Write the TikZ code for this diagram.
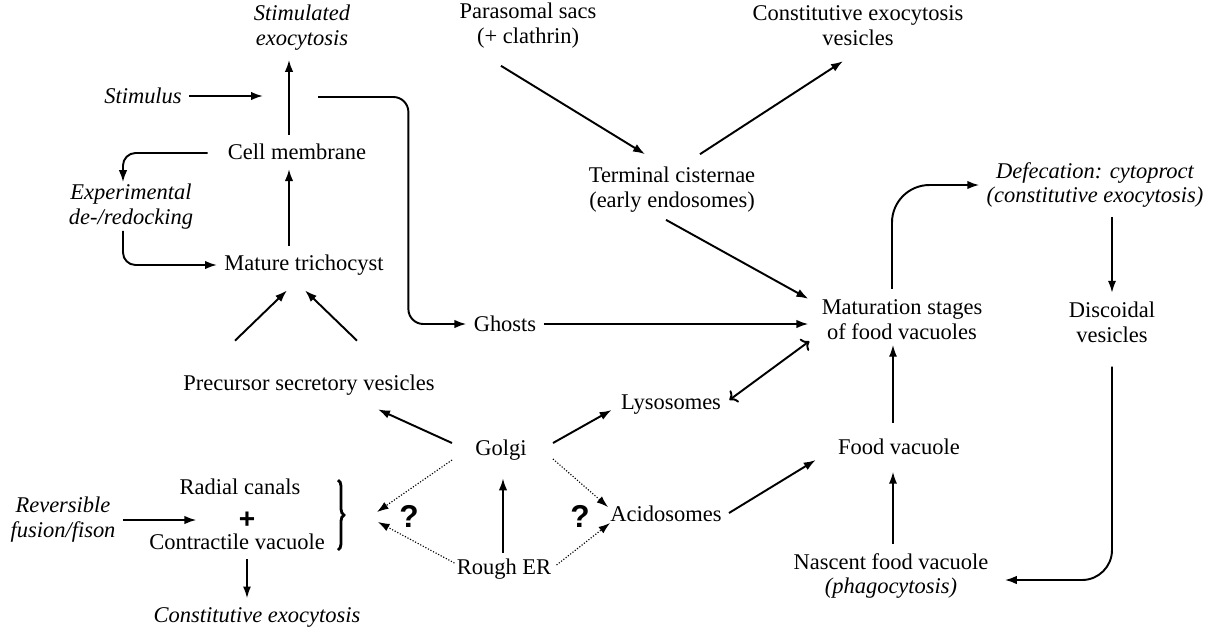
\documentclass[tikz,border=0pt]{standalone}
\usepackage{fontspec}
\setmainfont{Liberation Serif}
\setsansfont{Liberation Sans}
\usetikzlibrary{arrows.meta,calc,decorations.pathreplacing}

\newcommand{\figfont}{\fontsize{12.8}{14.2}\selectfont}

\begin{document}
\begin{tikzpicture}[
x=0.02cm, y=-0.02cm,
font=\figfont,
box/.style={inner xsep=4pt, inner ysep=5pt, align=center},
emph/.style={box, font=\figfont\itshape},
flow/.style={line width=1.1pt, -{Latex[length=2.4mm,width=1.7mm]}},
thinflow/.style={line width=0.65pt, -{Latex[length=2.3mm,width=1.6mm]}},
maybe/.style={line width=0.65pt, densely dotted, -{Latex[length=2.3mm,width=1.6mm]}},
query/.style={font=\fontsize{18}{18}\sffamily\bfseries}
]
    \useasboundingbox (0,0) rectangle (1218,627);

    % Trichocyst pathway
    \node[emph] (stimexo) at (302,28) {Stimulated\\exocytosis};
    \node[emph] (stimulus) at (143,96) {Stimulus};
    \coordinate (stimin) at (263,96);
    \coordinate (hub) at (289,96);
    \coordinate (trigout) at (318,97);
    \node[box] (cellmem) at (297,152) {Cell membrane};
    \node[emph] (exper) at (131,207) {Experimental\\de-/redocking};
    \node[box] (mature) at (304,265) {Mature trichocyst};
    \node[box] (precursor) at (309,385) {Precursor secretory vesicles};
    \node[box] (ghosts) at (505,324) {Ghosts};

    % Endocytic side
    \node[box] (parasomal) at (528,26) {Parasomal sacs\\(+ clathrin)};
    \node[box] (constexo) at (858,26) {Constitutive exocytosis\\vesicles};
    \node[box] (terminal) at (672,190) {Terminal cisternae\\(early endosomes)};
    \node[box] (matur) at (902,320) {Maturation stages\\of food vacuoles};
    \node[emph] (defec) at (1095,185) {Defecation: cytoproct\\(constitutive exocytosis)};
    \node[box] (discoid) at (1112,322) {Discoidal\\vesicles};
    \node[box] (foodvac) at (899,447) {Food vacuole};
    \node[box] (nascent) at (891,576) {Nascent food vacuole\\\textit{(phagocytosis)}};

    % Golgi and ER
    \node[box] (golgi) at (501,450) {Golgi};
    \node[box] (lyso) at (671,405) {Lysosomes};
    \node[box] (acido) at (666,514) {Acidosomes};
    \node[box] (rough) at (504,569) {Rough ER};
    \node[query] (q1) at (409,516) {?};
    \node[query] (q2) at (580,516) {?};

    % Contractile vacuole complex
    \node[emph] (revers) at (63,520) {Reversible\\fusion/fison};
    \node[box] (radial) at (240,487) {Radial canals};
    \node[box, font=\fontsize{16}{16}\sffamily\bfseries] (plus) at (247,520) {+};
    \node[box] (contract) at (237,542) {Contractile vacuole};
    \node[emph] (cvexo) at (257,617) {Constitutive exocytosis};
    \coordinate (cvin) at (377,517);
    \draw[line width=1.6pt, decorate, decoration={brace, amplitude=0.12cm}]
        (338,480) -- (338,550);

    % arrows, left part
    \draw[flow] (stimulus) -- (stimin);
    \draw[flow] (cellmem.north -| hub) -- (stimexo.south -| hub);
    \draw[flow] (mature.north -| hub) -- (cellmem.south -| hub);
    \draw[flow, rounded corners=0.3cm] (trigout) -| ($(ghosts.west)+(-58,0)$) -- (ghosts.west);
    \draw[flow, rounded corners=0.25cm] ($(cellmem.west)+(-13,1)$) -| ($(exper.north)+(-8,7)$);
    \draw[flow, rounded corners=0.25cm] ($(exper.south)+(-8,-8)$) |- (mature.west);
    \draw[flow] ([shift={(-74,-25)}]precursor.north) -- ([shift={(-17,6)}]mature.south);
    \draw[flow] ([shift={(48,-25)}]precursor.north) -- ([shift={(1,6)}]mature.south);
    \draw[flow] ([shift={(-16,-7)}]golgi.west) -- ([shift={(69,5)}]precursor.south);

    % arrows, middle
    \draw[flow] ([shift={(19,-7)}]golgi.east) -- ([shift={(-2,5)}]lyso.west);
    \draw[flow] ([shift={(-1,3)}]rough.north) -- ([shift={(2,9)}]golgi.south);
    \draw[maybe] ([shift={(-16,10)}]golgi.west) -- ([shift={(0,-5)}]cvin);
    \draw[maybe] ([shift={(5,-6)}]rough.west) -- ([shift={(1,5)}]cvin);
    \draw[maybe] ([shift={(19,9)}]golgi.east) -- ([shift={(5,-7)}]acido.west);
    \draw[maybe] ([shift={(-2,-4)}]rough.east) -- ([shift={(7,9)}]acido.west);
    \draw[flow] (ghosts.east) -- ($(ghosts.east -| matur.west)+(-6,0)$);
    \draw[flow, <->] ([shift={(1,-5)}]lyso.east) -- ([shift={(-5,-8)}]matur.south west);
    \draw[flow] ([shift={(0,-1)}]acido.east) -- ([shift={(-15,13)}]foodvac.west);

    % arrows, top and right
    \draw[flow] ([shift={(-27,8)}]parasomal.south) -- ([shift={(-27,-4)}]terminal.north);
    \draw[flow] ([shift={(28,-4)}]terminal.north) -- ([shift={(-15,6)}]constexo.south);
    \draw[flow] ([shift={(-6,-2)}]terminal.south) -- ([shift={(-6,8)}]matur.north west);
    \draw[flow, rounded corners=0.75cm] ([shift={(-10,-2)}]matur.north) |- (defec.west);
    \draw[thinflow] (defec.south -| discoid.north) -- (discoid.north);
    \draw[flow, rounded corners=0.6cm] ([shift={(0,15)}]discoid.south) |- ($(nascent.east)+(9,4)$);
    \draw[thinflow] ([shift={(2,0)}]nascent.north) -- ($(nascent.north |- foodvac.south)+(2,8)$);
    \draw[thinflow] ($(foodvac.north)+(-6,-7)$) -- ($(foodvac.north |- matur.south)+(-6,-4)$);

    % arrows, contractile vacuole
    \draw[flow] (revers.east) -- ($(plus.west)+(-35,0)$);
    \draw[thinflow] (contract.south -| plus) -- (cvexo.north -| plus);

\end{tikzpicture}
\end{document}
